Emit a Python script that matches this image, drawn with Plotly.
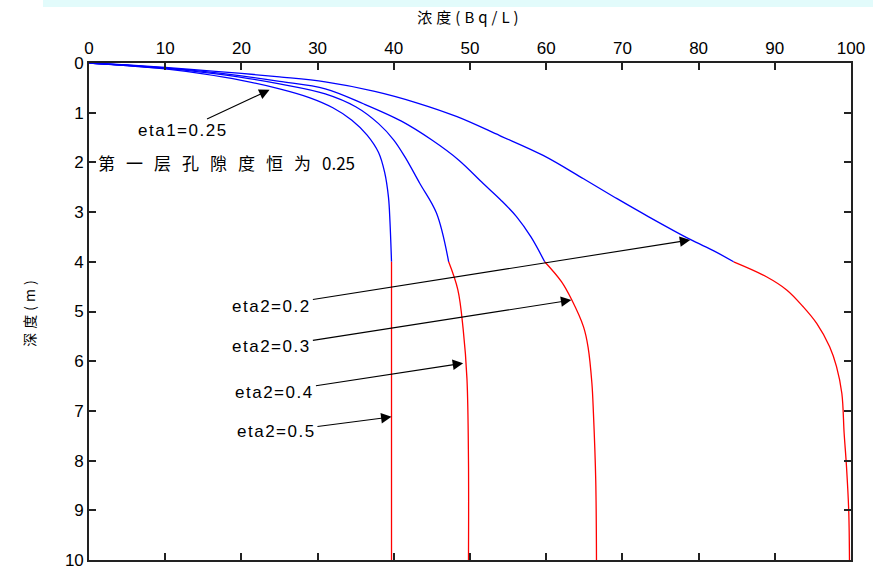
import plotly.graph_objects as go

# ---- data (concentration Bq/L, depth m) ----
# blue: first layer (depth 0-4 m), red: second layer (depth 4-10 m)
a_blue_c = [0, 5, 10, 15, 20, 25, 29, 32, 34.5, 36.5, 38, 38.8, 39.3, 39.5, 39.7]
a_blue_d = [0, 0.05, 0.12, 0.22, 0.35, 0.52, 0.70, 0.90, 1.15, 1.45, 1.80, 2.2, 2.7, 3.2, 4.0]
a_red_c = [39.7, 39.7, 39.7]
a_red_d = [4.0, 7.0, 10.0]

b_blue_c = [0, 5, 10, 15, 20, 25, 31, 35, 38, 40, 41.5, 43.4, 45.6, 47.2]
b_blue_d = [0, 0.05, 0.11, 0.19, 0.29, 0.42, 0.62, 0.88, 1.22, 1.55, 1.9, 2.42, 3.02, 4.0]
b_red_c = [47.2, 48.4, 49.1, 49.6, 49.8, 49.8]
b_red_d = [4.0, 4.56, 5.35, 6.35, 8.0, 10.0]

c_blue_c = [0, 5, 10, 15, 20, 25, 31, 36, 41, 45, 48.5, 51.7, 54, 56.1, 58, 59.8]
c_blue_d = [0, 0.045, 0.10, 0.17, 0.26, 0.37, 0.52, 0.82, 1.17, 1.55, 1.95, 2.42, 2.75, 3.09, 3.5, 4.0]
c_red_c = [59.8, 62, 63.3, 64.9, 65.5, 66.0, 66.2, 66.5, 66.6]
c_red_d = [4.0, 4.4, 4.75, 5.31, 5.72, 6.45, 7.05, 8.39, 10.0]

d_blue_c = [0, 5, 10, 15, 20, 25, 31, 37.5, 43, 48.3, 53.9, 59.6, 64.9, 69.3, 73.4, 78.9, 82, 84.6]
d_blue_d = [0, 0.04, 0.09, 0.15, 0.21, 0.28, 0.38, 0.57, 0.80, 1.08, 1.46, 1.86, 2.33, 2.73, 3.09, 3.55, 3.78, 4.0]
d_red_c = [84.6, 88.9, 91.6, 93.7, 95.5, 97.2, 98.1, 98.8, 99.1, 99.4, 99.7, 99.8]
d_red_d = [4.0, 4.3, 4.57, 4.9, 5.24, 5.71, 6.11, 6.65, 7.45, 8.1, 9.0, 10.0]

x_ticks = [0, 10, 20, 30, 40, 50, 60, 70, 80, 90, 100]
y_ticks = [0, 1, 2, 3, 4, 5, 6, 7, 8, 9, 10]

# annotations: label, tip (conc, depth), text centre (conc, depth)
ann_labels = ["eta1=0.25", "eta2=0.2", "eta2=0.3", "eta2=0.4", "eta2=0.5"]
ann_tip_c = [23.7, 78.9, 63.3, 49.1, 39.7]
ann_tip_d = [0.54, 3.56, 4.77, 6.04, 7.12]
ann_txt_c = [12.4, 24.0, 24.0, 24.4, 24.6]
ann_txt_d = [1.35, 4.89, 5.71, 6.62, 7.42]

note_cjk = "第一层孔隙度恒为"
note_num = "0.25"
note_c, note_d = 18.0, 2.01


def spaced(s, px):
    return '<span style="letter-spacing:%spx">%s</span>' % (px, s)


fig = go.Figure()
for bc, bd, rc, rd in [(a_blue_c, a_blue_d, a_red_c, a_red_d),
                       (b_blue_c, b_blue_d, b_red_c, b_red_d),
                       (c_blue_c, c_blue_d, c_red_c, c_red_d),
                       (d_blue_c, d_blue_d, d_red_c, d_red_d)]:
    fig.add_trace(go.Scatter(x=bc, y=bd, mode="lines", line=dict(color="#0000ff", width=1.3),
                             showlegend=False, line_shape="spline"))
    fig.add_trace(go.Scatter(x=rc, y=rd, mode="lines", line=dict(color="#ff0000", width=1.3),
                             showlegend=False, line_shape="spline"))

font_main = "Liberation Sans, Arial, sans-serif"
for lab, tc, td, xc, xd in zip(ann_labels, ann_tip_c, ann_tip_d, ann_txt_c, ann_txt_d):
    fig.add_annotation(x=tc, y=td, ax=xc, ay=xd, axref="x", ayref="y", xref="x", yref="y",
                       text=spaced(lab, 1.5), showarrow=True, arrowhead=2, arrowsize=1.9,
                       arrowwidth=1.1, arrowcolor="#000000",
                       font=dict(family=font_main, size=17, color="#000000"))

fig.add_annotation(x=note_c, y=note_d, xref="x", yref="y",
                   text=spaced(note_cjk, 11) + note_num,
                   showarrow=False, font=dict(family="Noto Sans CJK SC, sans-serif", size=17, color="#000000"))

# pale cyan band at the very top
fig.add_shape(type="rect", xref="paper", yref="paper", x0=-0.0604, x1=1.03, y0=1.1127, y1=1.14,
              fillcolor="#e2fbfb", line=dict(width=0), layer="below")

axis_common = dict(showline=True, linecolor="#222222", linewidth=1.6, mirror="ticks",
                   ticks="inside", ticklen=7, tickwidth=1.5, tickcolor="#222222",
                   showgrid=False, zeroline=False, ticklabeloverflow="allow", automargin=False,
                   tickfont=dict(family=font_main, size=17, color="#000000"))

fig.update_layout(
    width=873, height=567,
    margin=dict(l=89, r=22, t=63, b=7, autoexpand=False),
    paper_bgcolor="#ffffff", plot_bgcolor="#ffffff",
    xaxis=dict(range=[0, 100], side="top", tickvals=x_ticks, ticktext=[str(v) for v in x_ticks],
               title=dict(text=spaced("浓度(Bq/L)", 4), standoff=12,
                          font=dict(family="Noto Sans CJK SC, sans-serif", size=15, color="#000000")),
               **axis_common),
    yaxis=dict(range=[10, 0], tickvals=y_ticks, ticktext=[str(v) for v in y_ticks],
               title=dict(text=spaced("深度(m)", 4), standoff=26,
                          font=dict(family="Noto Sans CJK SC, sans-serif", size=14, color="#000000")),
               **axis_common),
)

fig.write_html("out.html", config={"displayModeBar": False},
               post_script="document.body.style.margin='0px';")
